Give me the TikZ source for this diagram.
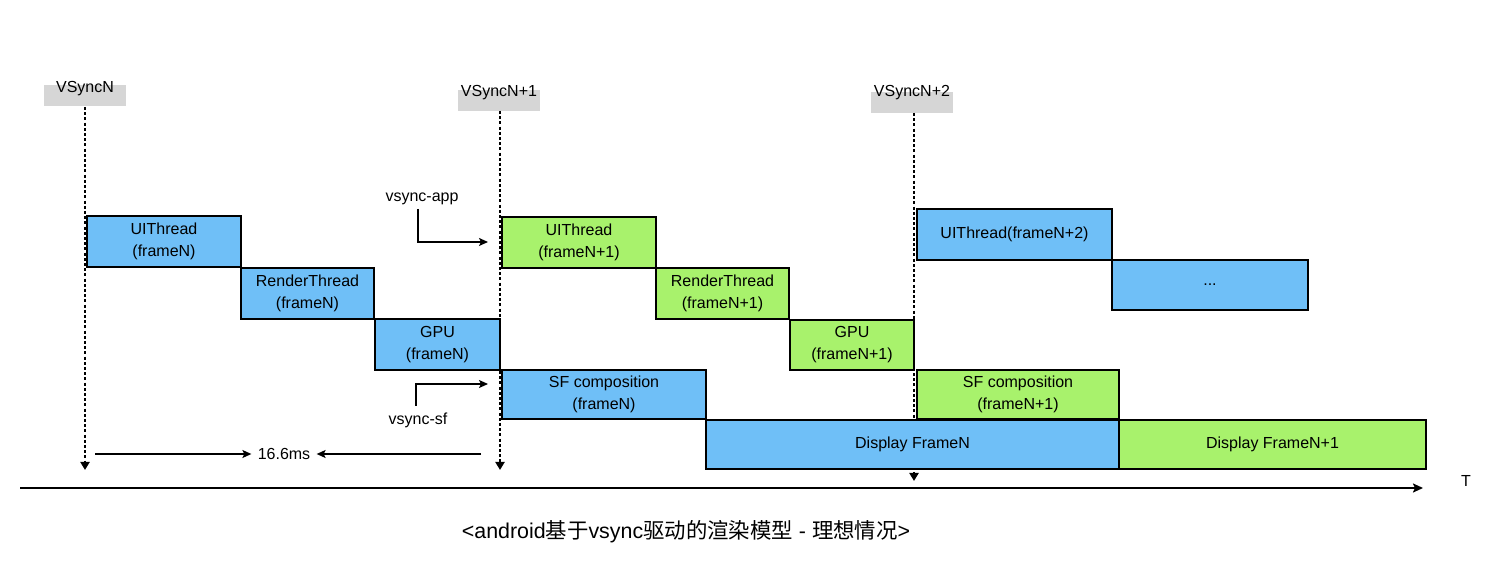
\documentclass[tikz,border=0pt]{standalone}
\usepackage{fontspec}
\setmainfont{Liberation Sans}
\newfontfamily\cjk{Noto Sans CJK SC}
\usetikzlibrary{arrows.meta}
\definecolor{bblue}{HTML}{6FBFF7}
\definecolor{bgreen}{HTML}{A8F26C}
\definecolor{vgray}{HTML}{D6D6D6}
\begin{document}
\begin{tikzpicture}[x=0.5pt,y=-0.5pt,
  box/.style={draw=black, line width=1pt, align=center, inner sep=0pt,
    font=\fontsize{8pt}{11pt}\selectfont, anchor=north west},
  sz/.style 2 args={minimum width={#1*0.5pt}, minimum height={#2*0.5pt}},
  bfill/.style={fill=bblue},
  gfill/.style={fill=bgreen},
  vtag/.style={fill=vgray, minimum width=41pt, minimum height=10.5pt, inner sep=0pt, anchor=north west},
  lbl/.style={font=\fontsize{8pt}{10pt}\selectfont, inner sep=0pt},
  vline/.style={line width=1.4pt, dash pattern=on 1.5pt off 1.1pt, -{Triangle[length=4pt,width=4.5pt]}},
  sarrow/.style={line width=0.7pt, -{Stealth[length=4.5pt,width=4pt,inset=1pt]}},
  axis/.style={line width=1pt, -{Stealth[length=5pt,width=4.5pt,inset=1pt]}}
]
\useasboundingbox (0,0) rectangle (1492,576);

% vsync tags
\node[vtag] (g0) at (44,85) {};
\node[lbl] (v0) at (85,89) {VSyncN};
\node[vtag] (g1) at (458,90) {};
\node[lbl] (v1) at (499,93) {VSyncN+1};
\node[vtag] (g2) at (871,92) {};
\node[lbl] (v2) at (912,93) {VSyncN+2};

% dotted vsync lines
\coordinate (s0) at (85,107);
\coordinate (e0) at (85,470);
\coordinate (s1) at (500,111);
\coordinate (e1) at (500,470);
\coordinate (s2) at (914,113);
\coordinate (e2) at (914,481);
\draw[vline] (s0) -- (e0);
\draw[vline] (s1) -- (e1);
\draw[vline] (s2) -- (e2);

% frame N (blue)
\node[box,bfill,sz={154}{51}] (ui0) at (86,215) {UIThread\\(frameN)};
\node[box,bfill,sz={133}{51}] (rt0) at (240,267) {RenderThread\\(frameN)};
\node[box,bfill,sz={125}{51}] (gpu0) at (374,318) {GPU\\(frameN)};
\node[box,bfill,sz={204}{49}] (sf0) at (501,369) {SF composition\\(frameN)};
\node[box,bfill,sz={413}{49}] (d0) at (705,419) {Display FrameN};

% frame N+1 (green)
\node[box,gfill,sz={154}{51}] (ui1) at (501,216) {UIThread\\(frameN+1)};
\node[box,gfill,sz={133}{51}] (rt1) at (655,267) {RenderThread\\(frameN+1)};
\node[box,gfill,sz={124}{50}] (gpu1) at (789,319) {GPU\\(frameN+1)};
\node[box,gfill,sz={202}{49}] (sf1) at (916,369) {SF composition\\(frameN+1)};
\node[box,gfill,sz={307}{49}] (d1) at (1118,419) {Display FrameN+1};

% frame N+2 (blue)
\node[box,bfill,sz={195}{51}] (ui2) at (916,208) {UIThread(frameN+2)};
\node[box,bfill,sz={196}{50}] (dots) at (1111,259) {...};

% vsync-app / vsync-sf
\node[lbl] (va) at (422,199) {vsync-app};
\coordinate (va0) at (418,209);
\coordinate (va1) at (488,242);
\draw[sarrow] (va0) |- (va1);
\node[lbl] (vs) at (418,420) {vsync-sf};
\coordinate (vs0) at (416,406);
\coordinate (vs1) at (488,384);
\draw[sarrow] (vs0) |- (vs1);

% 16.6ms
\node[lbl] (ms) at (284,454) {16.6ms};
\coordinate (m0) at (95,454);
\coordinate (m1) at (481,454);
\draw[sarrow] (m0) -- ([xshift=-3pt]ms.west);
\draw[sarrow] (m1) -- ([xshift=3pt]ms.east);

% time axis
\coordinate (a0) at (20,488);
\coordinate (a1) at (1423,488);
\draw[axis] (a0) -- (a1);
\node[lbl] (t) at (1466,481) {T};

% caption
\node[inner sep=0pt, font=\fontsize{10.7pt}{13pt}\selectfont] (cap) at (686,532)
  {<android{\cjk 基于}vsync{\cjk 驱动的渲染模型} - {\cjk 理想情况}>};
\end{tikzpicture}
\end{document}
